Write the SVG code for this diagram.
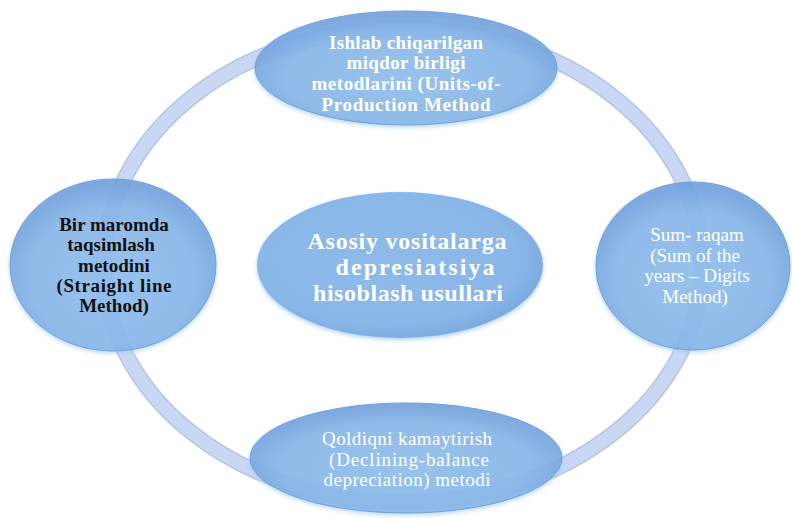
<svg xmlns="http://www.w3.org/2000/svg" width="792" height="518" viewBox="0 0 792 518">
<defs>
<radialGradient id="gNode" cx="50%" cy="58%" r="56%">
<stop offset="0" stop-color="#8fbcea"/>
<stop offset="0.72" stop-color="#84b3e6"/>
<stop offset="1" stop-color="#6898d7"/>
</radialGradient>
<radialGradient id="gCenter" cx="45%" cy="45%" r="58%">
<stop offset="0" stop-color="#8dbae9"/>
<stop offset="0.8" stop-color="#89b7e8"/>
<stop offset="1" stop-color="#7aa9e0"/>
</radialGradient>
<filter id="glow" x="-10%" y="-10%" width="120%" height="130%">
<feGaussianBlur in="SourceAlpha" stdDeviation="2"/>
<feOffset dy="2" result="b"/>
<feFlood flood-color="#9ccaf4" flood-opacity="0.8"/>
<feComposite in2="b" operator="in"/>
<feMerge><feMergeNode/><feMergeNode in="SourceGraphic"/></feMerge>
</filter>
</defs>
<style>
.node{fill:url(#gNode);fill-opacity:0.8;stroke:#6f9fdb;stroke-width:1;}
.w{fill:#ffffff;font-family:"Liberation Serif","Times New Roman",serif;text-anchor:middle;}
.b{font-weight:bold;}
.k{fill:#111111;font-family:"Liberation Serif","Times New Roman",serif;text-anchor:middle;font-weight:bold;}
</style>
<rect width="792" height="518" fill="#ffffff"/>
<g id="connectors">
<ellipse cx="403" cy="265" rx="299" ry="237" fill="none" stroke="#b3c4e7" stroke-width="16"/>
<ellipse cx="403" cy="265" rx="299" ry="237" fill="none" stroke="#c9d7f3" stroke-width="13"/>
</g>
<g id="center">
<ellipse cx="400" cy="265" rx="143" ry="73" fill="url(#gCenter)" filter="url(#glow)"/>
<text class="w b" font-size="24"><tspan x="407" y="249" textLength="199" lengthAdjust="spacing">Asosiy vositalarga</tspan><tspan x="415" y="275" textLength="159" lengthAdjust="spacing">depresiatsiya</tspan><tspan x="408" y="301" textLength="190" lengthAdjust="spacing">hisoblash  usullari</tspan></text>
</g>
<g id="top">
<ellipse class="node" cx="406" cy="68" rx="151" ry="57" filter="url(#glow)"/>
<text class="w b" font-size="19"><tspan x="406" y="49" textLength="154" lengthAdjust="spacing">Ishlab chiqarilgan</tspan><tspan x="406" y="69" textLength="119" lengthAdjust="spacing">miqdor birligi</tspan><tspan x="406" y="90" textLength="189" lengthAdjust="spacing">metodlarini (Units-of-</tspan><tspan x="406" y="111" textLength="169" lengthAdjust="spacing">Production Method</tspan></text>
</g>
<g id="left">
<ellipse class="node" cx="113" cy="265" rx="103" ry="86" filter="url(#glow)"/>
<text class="k" font-size="19"><tspan x="114" y="231">Bir maromda</tspan><tspan x="111" y="251">taqsimlash</tspan><tspan x="114" y="272">metodini</tspan><tspan x="114" y="292" textLength="115" lengthAdjust="spacing">(Straight line</tspan><tspan x="114" y="312">Method)</tspan></text>
</g>
<g id="right">
<ellipse class="node" cx="693" cy="266" rx="97" ry="84" filter="url(#glow)"/>
<text class="w" font-size="19"><tspan x="697" y="241">Sum- raqam</tspan><tspan x="695" y="262">(Sum of the</tspan><tspan x="697" y="282">years – Digits</tspan><tspan x="695" y="303">Method)</tspan></text>
</g>
<g id="bottom">
<ellipse class="node" cx="406" cy="458" rx="156" ry="55" filter="url(#glow)"/>
<text class="w" font-size="19"><tspan x="407" y="445" textLength="170" lengthAdjust="spacing">Qoldiqni  kamaytirish</tspan><tspan x="409" y="466" textLength="160" lengthAdjust="spacing">(Declining-balance</tspan><tspan x="407" y="486" textLength="167" lengthAdjust="spacing">depreciation)  metodi</tspan></text>
</g>
</svg>
